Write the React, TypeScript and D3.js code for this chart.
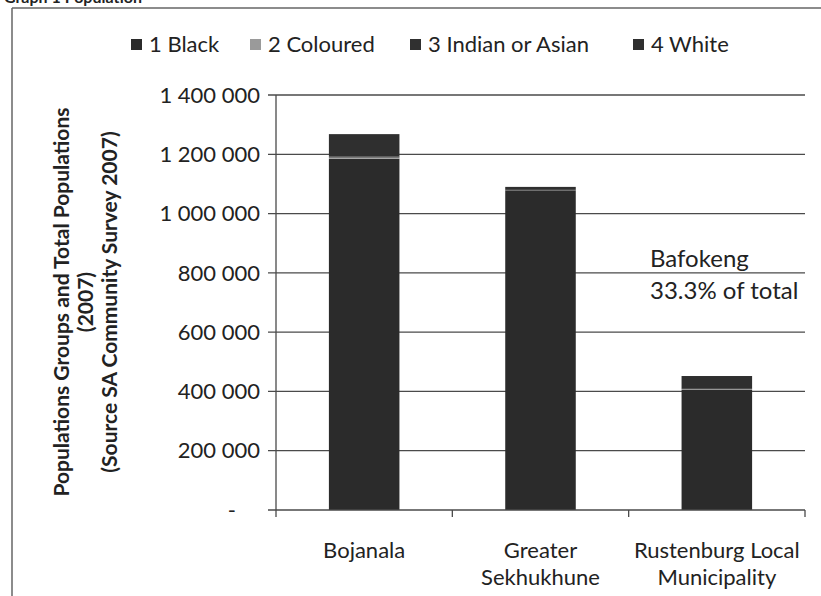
import * as d3 from 'd3';

const categories = [['Bojanala'], ['Greater', 'Sekhukhune'], ['Rustenburg Local', 'Municipality']];
const groups = ['1 Black', '2 Coloured', '3 Indian or Asian', '4 White'];
const black = [1185000, 1078000, 405000];
const coloured = [4000, 500, 2500];
const indian = [4000, 1500, 3500];
const white = [75000, 10000, 41000];
const yTicks = [0, 200000, 400000, 600000, 800000, 1000000, 1200000, 1400000];
const groupColors = ['#2b2b2b', '#9a9a9a', '#303030', '#2f2f2f'];

const W = 821;
const H = 596;
const MARGIN = { top: 95, right: 16, bottom: 86, left: 276 };
const FONT = 'Lato, "Open Sans", sans-serif';

const fmt = (v: number) => (v === 0 ? '-' : d3.format(',')(v).replace(/,/g, ' '));

export default function App() {
  const boundsW = W - MARGIN.left - MARGIN.right;
  const boundsH = H - MARGIN.top - MARGIN.bottom;
  const keys = categories.map((c) => c.join(' '));

  const x = d3.scaleBand().domain(keys).range([0, boundsW]).paddingInner(0.6).paddingOuter(0.3);
  const y = d3.scaleLinear().domain([0, 1400000]).range([boundsH, 0]);

  const rows = keys.map((k, i) => ({ key: k, g0: black[i], g1: coloured[i], g2: indian[i], g3: white[i] }));
  const stacked = d3.stack<any>().keys(['g0', 'g1', 'g2', 'g3'])(rows);

  const step = x.step();
  const legendX = [131, 250, 410, 633];

  return (
    <svg width={W} height={H} style={{ position: 'absolute', left: 0, top: 0, background: '#fff' }}>
      <text x={4} y={3} fontFamily={FONT} fontWeight="bold" fontSize={16} fill="#222">Graph 1 Population</text>
      <line x1={12} y1={8} x2={W} y2={8} stroke="#666" strokeWidth={1.5} />
      <line x1={12} y1={8} x2={12} y2={H} stroke="#666" strokeWidth={1.5} />

      {groups.map((g, i) => (
        <g key={g}>
          <rect x={legendX[i]} y={39} width={11} height={11} fill={groupColors[i]} />
          <text x={legendX[i] + 18} y={52} fontFamily={FONT} fontSize={22} fill="#222">{g}</text>
        </g>
      ))}

      <g transform={`translate(${MARGIN.left},${MARGIN.top})`}>
        {yTicks.map((t) => (
          <g key={t}>
            {t > 0 && <line x1={-8} x2={boundsW} y1={y(t)} y2={y(t)} stroke="#4a4a4a" strokeWidth={1.3} />}
            <text
              x={t === 0 ? -40 : -16}
              y={y(t)}
              dy="0.35em"
              textAnchor="end"
              fontFamily={FONT}
              fontSize={22}
              fill="#222"
            >
              {fmt(t)}
            </text>
          </g>
        ))}

        {stacked.map((layer, li) =>
          layer.map((d, i) => (
            <rect
              key={`${li}-${i}`}
              x={x(keys[i])}
              y={y(d[1])}
              width={x.bandwidth()}
              height={Math.max(0, y(d[0]) - y(d[1]))}
              fill={groupColors[li]}
            />
          ))
        )}

        <line x1={0} x2={0} y1={0} y2={boundsH + 7} stroke="#4a4a4a" strokeWidth={1.3} />
        <line x1={-8} x2={boundsW} y1={boundsH} y2={boundsH} stroke="#4a4a4a" strokeWidth={1.3} />
        {d3.range(1, 4).map((k) => (
          <line key={k} x1={step * k} x2={step * k} y1={boundsH} y2={boundsH + 7} stroke="#4a4a4a" strokeWidth={1.3} />
        ))}

        {categories.map((lines, i) => (
          <text
            key={keys[i]}
            x={(x(keys[i]) as number) + x.bandwidth() / 2}
            y={boundsH + 48}
            textAnchor="middle"
            fontFamily={FONT}
            fontSize={22}
            fill="#222"
          >
            {lines.map((l, j) => (
              <tspan key={l} x={(x(keys[i]) as number) + x.bandwidth() / 2} dy={j === 0 ? 0 : 27}>{l}</tspan>
            ))}
          </text>
        ))}

        <text x={374} y={172} fontFamily={FONT} fontSize={24} fill="#222">
          <tspan x={374}>Bafokeng</tspan>
          <tspan x={374} dy={32}>33.3% of total</tspan>
        </text>
      </g>

      <g transform="translate(86,302) rotate(-90)">
        <text textAnchor="middle" fontFamily={FONT} fontWeight="bold" fontSize={21} fill="#222">
          <tspan x={0} y={-17}>Populations Groups and Total Populations</tspan>
          <tspan x={0} y={7}>(2007)</tspan>
          <tspan x={0} y={31}>(Source SA Community Survey 2007)</tspan>
        </text>
      </g>
    </svg>
  );
}
